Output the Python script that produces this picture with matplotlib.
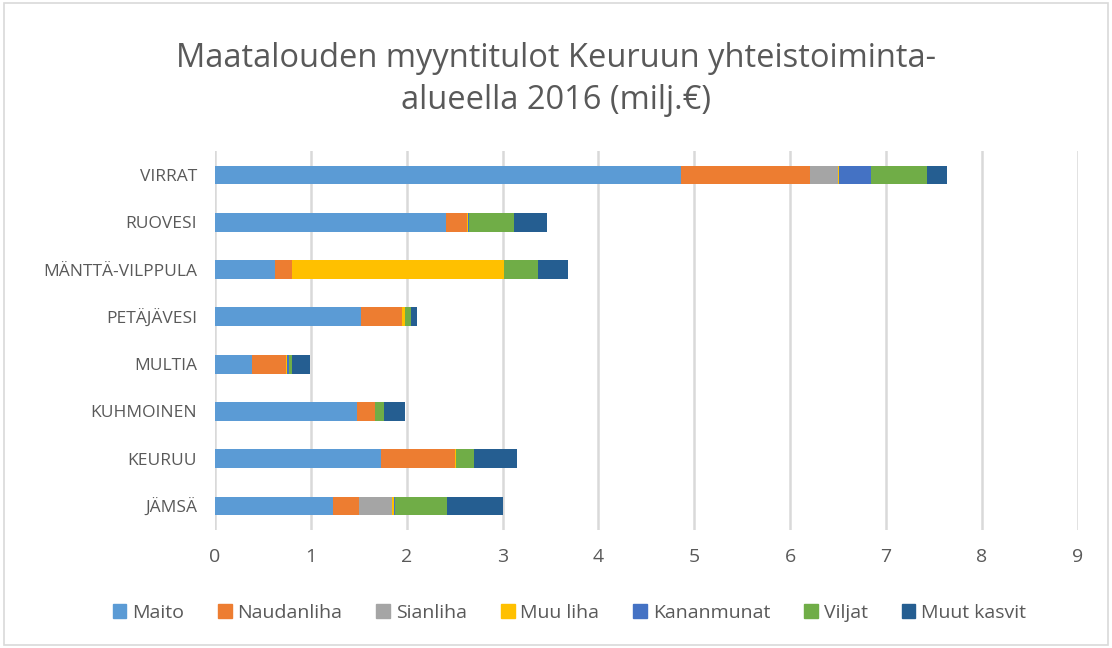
import matplotlib.pyplot as plt
from matplotlib.patches import Rectangle, Patch

# Municipalities (bottom to top as drawn)
regions = ['JÄMSÄ', 'KEURUU', 'KUHMOINEN', 'MULTIA', 'PETÄJÄVESI',
           'MÄNTTÄ-VILPPULA', 'RUOVESI', 'VIRRAT']

# Sales income per product group, milj. €
maito = [1.23, 1.73, 1.48, 0.39, 1.52, 0.63, 2.41, 4.86]
naudanliha = [0.27, 0.77, 0.19, 0.35, 0.43, 0.17, 0.22, 1.35]
sianliha = [0.35, 0.0, 0.0, 0.0, 0.0, 0.0, 0.0, 0.29]
muu_liha = [0.02, 0.01, 0.0, 0.01, 0.03, 2.21, 0.01, 0.01]
kananmunat = [0.01, 0.0, 0.0, 0.02, 0.0, 0.0, 0.01, 0.33]
viljat = [0.54, 0.19, 0.09, 0.03, 0.06, 0.36, 0.47, 0.59]
muut_kasvit = [0.58, 0.45, 0.22, 0.19, 0.07, 0.31, 0.34, 0.21]

series = ['Maito', 'Naudanliha', 'Sianliha', 'Muu liha', 'Kananmunat', 'Viljat', 'Muut kasvit']
values = [maito, naudanliha, sianliha, muu_liha, kananmunat, viljat, muut_kasvit]
colors = ['#5B9BD5', '#ED7D31', '#A5A5A5', '#FFC000', '#4472C4', '#70AD47', '#255E91']

plt.rcParams['font.family'] = ['Open Sans', 'DejaVu Sans']

fig = plt.figure(figsize=(11.12, 6.48), dpi=100)
ax = fig.add_axes([0.1933, 0.1827, 0.776, 0.5837])

left = [0.0] * len(regions)
for name, vals, col in zip(series, values, colors):
    ax.barh(regions, vals, left=left, height=0.4, color=col, label=name, zorder=3)
    left = [l + v for l, v in zip(left, vals)]

ax.set_xlim(0, 9)
ax.set_ylim(-0.5, len(regions) - 0.5)
ax.set_xticks(range(10))
ax.grid(axis='x', color='#D9D9D9', linewidth=1.8, zorder=0)
for s in ax.spines.values():
    s.set_visible(False)
ax.tick_params(length=0, colors='#595959')
ax.tick_params(axis='x', pad=13, labelsize=14)
ax.tick_params(axis='y', pad=13, labelsize=12.5)

fig.text(0.5, 0.877, 'Maatalouden myyntitulot Keuruun yhteistoiminta-\nalueella 2016 (milj.€)',
         ha='center', va='center', fontsize=23.5, color='#595959', linespacing=1.38)

handles = [Patch(color=c, label=n) for n, c in zip(series, colors)]
fig.legend(handles=handles, loc='center', bbox_to_anchor=(0.512, 0.054), ncol=7,
           frameon=False, fontsize=14, handlelength=0.7, handleheight=0.7,
           handletextpad=0.3, columnspacing=1.75, labelcolor='#595959')

fig.patches.append(Rectangle((0.004, 0.004), 0.992, 0.992, transform=fig.transFigure,
                             fill=False, edgecolor='#D9D9D9', linewidth=1.2))

fig.savefig('out.png', dpi=100, facecolor='white')
